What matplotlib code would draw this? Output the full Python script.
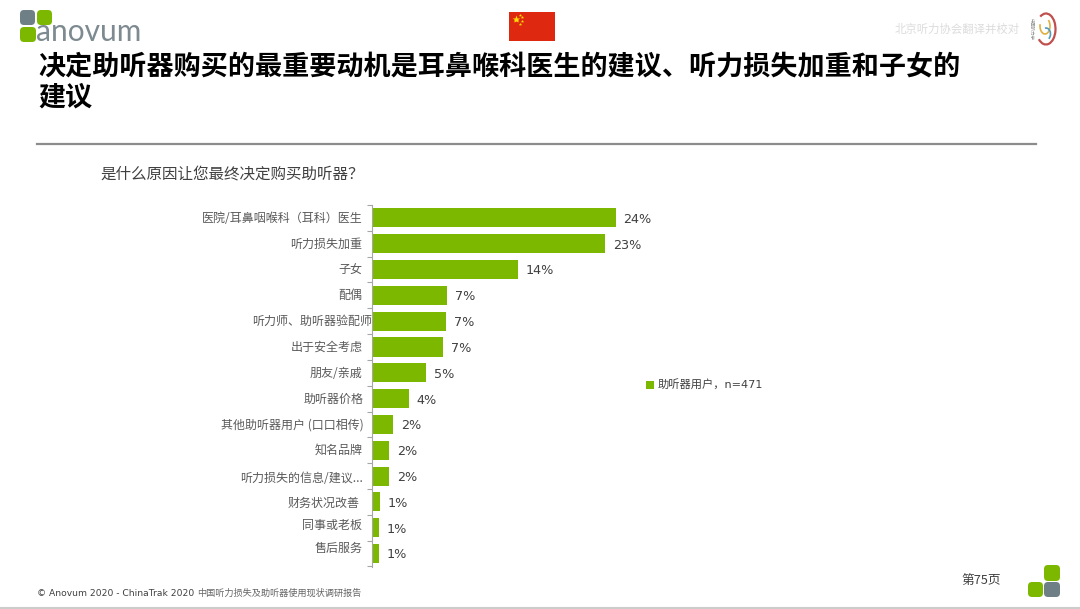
#!/usr/bin/env python3

import matplotlib

matplotlib.use("Agg")
import matplotlib.pyplot as plt
from matplotlib.font_manager import FontProperties
from matplotlib.patches import Arc, FancyBboxPatch, Rectangle
from matplotlib.transforms import ScaledTranslation

plt.rcParams["font.family"] = ["Noto Sans CJK SC", "DejaVu Sans"]

TITLE = "决定助听器购买的最重要动机是耳鼻喉科医生的建议、听力损失加重和子女的\n建议"
QUESTION = "是什么原因让您最终决定购买助听器？"
SERIES = "助听器用户，n=471"
FOOTER = "© Anovum 2020 - ChinaTrak 2020 "
FOOTER_CN = "中国听力损失及助听器使用现状调研报告"

categories = [
    "医院/耳鼻咽喉科（耳科）医生",
    "听力损失加重",
    "子女",
    "配偶",
    "听力师、助听器验配师",
    "出于安全考虑",
    "朋友/亲戚",
    "助听器价格",
    "其他助听器用户 (口口相传)",
    "知名品牌",
    "听力损失的信息/建议...",
    "财务状况改善",
    "同事或老板",
    "售后服务",
]
values = [24.0, 23.0, 14.4, 7.4, 7.3, 7.0, 5.3, 3.6, 2.1, 1.7, 1.7, 0.8, 0.7, 0.7]
value_labels = ["24%", "23%", "14%", "7%", "7%", "7%", "5%", "4%", "2%", "2%", "2%", "1%", "1%", "1%"]

GREEN = "#7cb800"
GREY = "#6f7f86"
W, H = 1080, 609

# tick labels in the slide do not all sit on their bars (pixels, right / up)
label_dx = [0, 0, 0, 0, 10, 0, 0, 1, 1, 0, 1, -3, 0, 0]
label_dy = [1, 1, 1, 1, 1, 1, 1, 1, 1, 2, -1, 0, 4, 7]


def rounded(ax, x, y, w, h, color, r=4):
    ax.add_patch(
        FancyBboxPatch(
            (x + r, y + r), w - 2 * r, h - 2 * r,
            boxstyle=f"round,pad={r},rounding_size={r}",
            fc=color, ec="none",
        )
    )


def draw_slide(bg):
    bg.set_xlim(0, W)
    bg.set_ylim(H, 0)
    bg.axis("off")

    # anovum logo
    rounded(bg, 20, 10, 15, 15, GREY)
    rounded(bg, 37, 10, 15, 15, GREEN)
    rounded(bg, 20, 27, 16, 15, GREEN)
    bg.text(36, 41, "anovum", family="Lato", fontsize=21.5, color="#7d8a90", va="baseline")

    # flag
    bg.add_patch(Rectangle((509, 12), 46, 29, fc="#de2910", ec="none"))
    bg.plot([516], [19], marker="*", ms=6, color="#ffde00", mec="none")
    for x, y in [(520, 14.5), (522, 17), (522, 21), (520, 24)]:
        bg.plot([x], [y], marker="*", ms=2.5, color="#ffde00", mec="none")

    # translator mark, top right
    bg.text(1020, 29, "北京听力协会翻译并校对", fontsize=8.2, color="#dcdcdc", ha="right", va="center")
    bg.text(1031, 29, "中国听力学", fontsize=3.2, color="#888888", rotation=270, ha="center", va="center")
    bg.add_patch(Arc((1046, 29), 19, 31, theta1=-115, theta2=125, color="#c0504d", lw=1.6))
    bg.add_patch(Arc((1045, 26), 10, 16, theta1=-60, theta2=200, color="#e0b040", lw=1.2))
    bg.add_patch(Arc((1046, 34), 9, 12, theta1=-100, theta2=60, color="#4f9bc0", lw=1.2))

    bg.text(38, 82, TITLE, fontsize=19.5, fontweight="bold", color="black",
            va="center", linespacing=1.18)
    bg.plot([37, 1036], [144, 144], color="#8c8c8c", lw=1.6)
    bg.text(100, 174.5, QUESTION, fontsize=11.2, color="#404040", va="center")

    # footer
    foot = bg.text(37, 593, FOOTER, fontsize=6.6, color="#404040", va="center", family="DejaVu Sans")
    bg.figure.canvas.draw()
    end = foot.get_window_extent().x1
    bg.text(end, 593, FOOTER_CN, fontsize=6.6, color="#666666", va="center")
    bg.text(981, 580, "第75页", fontsize=9.2, color="#404040", ha="center", va="center")
    rounded(bg, 1044, 565, 16, 16, GREEN)
    rounded(bg, 1028, 582, 15, 15, GREEN)
    rounded(bg, 1044, 582, 16, 15, GREY)

    bg.plot([0, W], [607.5, 607.5], color="#cccccc", lw=1.5)


def main() -> None:
    fig = plt.figure(figsize=(W / 100, H / 100), dpi=100)

    bg = fig.add_axes([0, 0, 1, 1])
    draw_slide(bg)

    # chart axes: x 372..1016 px, y 205..567 px
    ax = fig.add_axes([372 / W, 1 - 567 / H, 644 / W, 362 / H])
    ax.patch.set_alpha(0)
    ys = list(range(len(categories)))
    bars = ax.barh(ys, values, height=0.74, color=GREEN, label=SERIES)

    ax.set_xlim(0, 64.4 / 1.015)
    ax.set_ylim(len(categories) - 0.5 + 0.02, -0.5)

    for y, v, text in zip(ys, values, value_labels):
        ax.annotate(text, (v, y), xytext=(5.6, -1), textcoords="offset points",
                    fontsize=9.2, color="#404040", va="center", family="DejaVu Sans")

    ax.set_yticks(ys, categories, fontsize=8.65, color="#5a5a5a")
    ax.tick_params(axis="y", length=0, pad=7)
    ax.set_yticks([y - 0.5 for y in ys] + [len(ys) - 0.5], minor=True)
    ax.tick_params(axis="y", which="minor", length=3.5, color="#a6a6a6", width=0.8)
    for label, dx, dy in zip(ax.get_yticklabels(), label_dx, label_dy):
        label.set_transform(label.get_transform() + ScaledTranslation(dx / 100, dy / 100, fig.dpi_scale_trans))

    ax.xaxis.set_visible(False)
    for side in ("top", "right", "bottom"):
        ax.spines[side].set_visible(False)
    ax.spines["left"].set_color("#a6a6a6")
    ax.spines["left"].set_linewidth(0.8)

    bg.legend(
        handles=[bars], loc="center left",
        bbox_to_anchor=(636 / W, 1 - 385 / H), bbox_transform=fig.transFigure,
        frameon=False, labelcolor="#404040",
        prop=FontProperties(family=["DejaVu Sans", "Noto Sans CJK SC"], size=8.1),
        handlelength=0.7, handleheight=0.7, handletextpad=0.35,
    )

    fig.savefig("out.png", dpi=100)


if __name__ == "__main__":
    main()
